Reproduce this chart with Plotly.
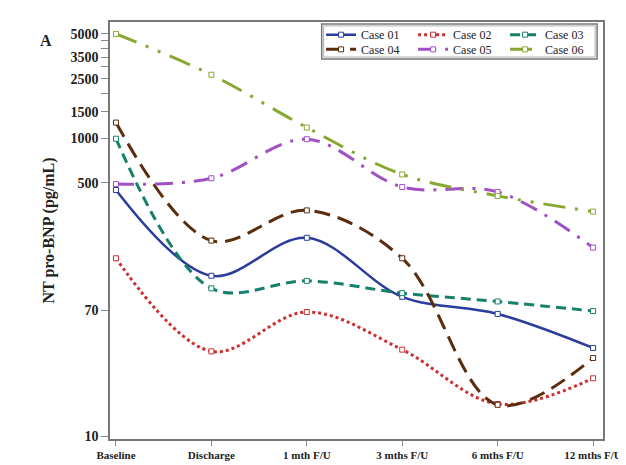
import plotly.graph_objects as go

categories = ["Baseline", "Discharge", "1 mth F/U", "3 mths F/U", "6 mths F/U", "12 mths F/U"]
case01 = [448, 119, 214, 86, 66, 39]
case02 = [156, 37, 68, 38, 16.4, 24.4]
case03 = [990, 98, 110, 91, 80, 69]
case04 = [1270, 205, 327, 156, 16.2, 33.4]
case05 = [491, 537, 982, 469, 435, 184]
case06 = [5000, 2660, 1178, 570, 409, 321]

y_tickvals = [10, 70, 500, 1000, 1500, 2000, 2500, 3000, 3500, 4000, 4500, 5000]
y_ticktext = ["10", "70", "500", "1000", "1500", "", "2500", "", "3500", "", "", "5000"]

series = [
    ("Case 01", case01, "#2b3c9c", "solid", 2.5, "legend"),
    ("Case 02", case02, "#cf2e2e", "dot", 3, "legend"),
    ("Case 03", case03, "#17806c", "10px,6px", 3, "legend"),
    ("Case 04", case04, "#5b2c0e", "16px,8px", 3, "legend2"),
    ("Case 05", case05, "#a04fc4", "18px,9px,3px,9px", 3, "legend2"),
    ("Case 06", case06, "#86a832", "22px,10px,3px,10px,3px,10px", 3, "legend2"),
]

FONT = "Liberation Serif"
fig = go.Figure()
for name, vals, color, dash, w, lg in series:
    fig.add_trace(go.Scatter(
        x=categories, y=vals, name=name, mode="lines+markers", legend=lg,
        line=dict(color=color, dash=dash, width=w, shape="spline", smoothing=1),
        marker=dict(symbol="square", size=5, color="white", line=dict(color=color, width=1)),
    ))

legend_common = dict(
    orientation="h", xanchor="right", x=0.988, yanchor="middle",
    bgcolor="rgba(0,0,0,0)", borderwidth=0,
    font=dict(family=FONT, size=12, color="#222"),
    entrywidth=47, entrywidthmode="pixels",
    itemwidth=30, tracegroupgap=0,
)

fig.update_layout(
    width=626, height=465,
    margin=dict(l=102, r=28, t=14, b=24),
    paper_bgcolor="white", plot_bgcolor="white",
    font=dict(family=FONT, color="#222"),
    showlegend=True,
    legend=dict(y=0.9696, **legend_common),
    legend2=dict(y=0.9344, **legend_common),
    xaxis=dict(
        type="category", range=[-0.0625, 5.104],
        showline=True, linecolor="#777", linewidth=1.5, mirror=True,
        ticks="outside", ticklen=5, tickcolor="#888",
        showgrid=False, zeroline=False,
        tickfont=dict(family=FONT, size=11, color="#222", weight="bold"),
    ),
    yaxis=dict(
        type="log", range=[0.980, 3.779],
        tickvals=y_tickvals, ticktext=y_ticktext,
        showline=True, linecolor="#777", linewidth=1.5, mirror=True,
        ticks="outside", ticklen=7, tickcolor="#888",
        showgrid=False, zeroline=False,
        tickfont=dict(family=FONT, size=14, color="#222", weight="bold"),
        title=dict(text="NT pro-BNP (pg/mL)", standoff=12,
                   font=dict(family=FONT, size=16, color="#222", weight="bold")),
    ),
    shapes=[
        dict(type="rect", xref="paper", yref="paper", x0=0.4294, x1=0.988, y0=0.911, y1=0.9953,
             fillcolor="white", line=dict(color="#777", width=1.5), layer="above"),
        dict(type="rect", xref="paper", yref="paper", x0=0.4334, x1=0.984, y0=0.916, y1=0.9906,
             fillcolor="rgba(0,0,0,0)", line=dict(color="#999", width=0.8), layer="above"),
    ],
    annotations=[dict(
        text="<b>A</b>", xref="paper", yref="paper", x=-0.13, y=0.955,
        xanchor="center", yanchor="middle", showarrow=False,
        font=dict(family=FONT, size=16, color="#222"),
    )],
)

fig.write_html("out.html")
